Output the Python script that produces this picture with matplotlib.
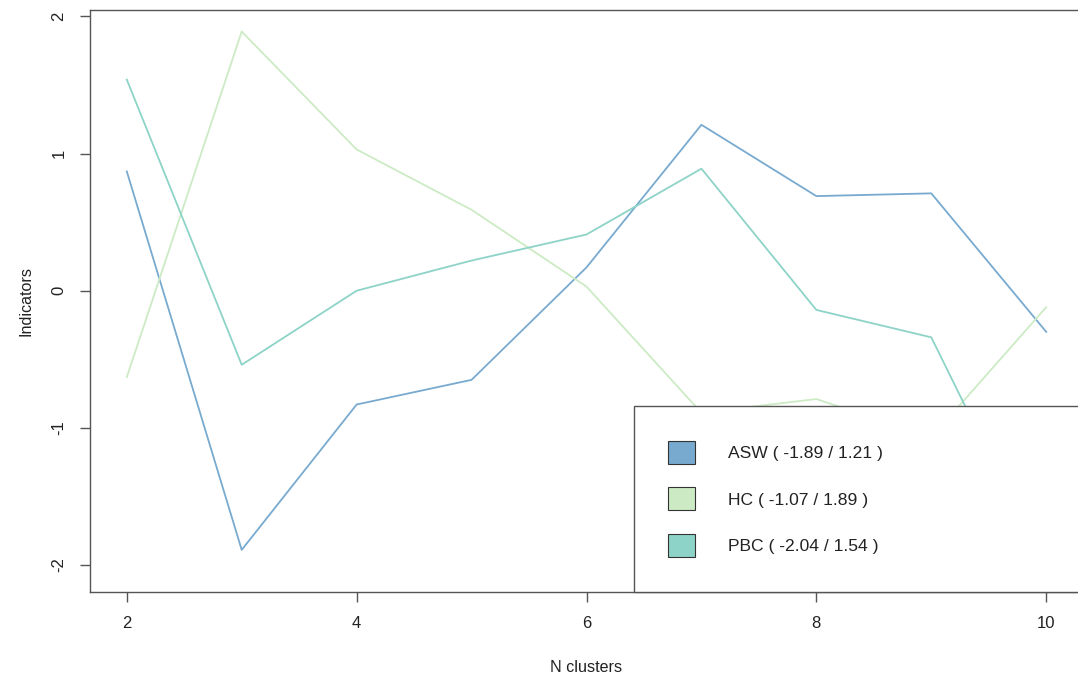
import numpy as np
import matplotlib.pyplot as plt
from matplotlib.patches import Patch, Rectangle

plt.rcParams['font.family'] = ['Liberation Sans', 'DejaVu Sans']

# N clusters 2..10
n_clusters = [2, 3, 4, 5, 6, 7, 8, 9, 10]
asw = [0.87, -1.89, -0.83, -0.65, 0.17, 1.21, 0.69, 0.71, -0.30]
hc = [-0.63, 1.89, 1.03, 0.59, 0.03, -0.89, -0.79, -1.07, -0.12]
pbc = [1.54, -0.54, 0.00, 0.22, 0.41, 0.89, -0.14, -0.34, -2.04]

names = ["ASW", "HC", "PBC"]
series = [asw, hc, pbc]
colors = ["#78AAD0", "#CCEBC5", "#8DD3C7"]
x_ticks = [2, 4, 6, 8, 10]
y_ticks = [-2, -1, 0, 1, 2]

W, H = 1078, 680
fig = plt.figure(figsize=(W / 100, H / 100), dpi=100)
ax = fig.add_axes([90 / W, 1 - 592 / H, 993 / W, 582 / H])

for vals, c in zip(series, colors):
    ax.plot(n_clusters, vals, color=c, lw=1.3, zorder=2)

# R-style 4% axis padding
allv = np.concatenate(series)
lo, hi = allv.min(), allv.max()
ax.set_ylim(lo - 0.04 * (hi - lo), hi + 0.04 * (hi - lo))
x0, x1 = min(n_clusters), max(n_clusters)
ax.set_xlim(x0 - 0.04 * (x1 - x0), x1 + 0.04 * (x1 - x0))

ax.set_xticks(x_ticks)
ax.set_yticks(y_ticks)
ax.set_yticklabels([str(t) for t in y_ticks], rotation=90, va='center')
ax.tick_params(direction='out', length=7, width=1, color='#555555',
               labelsize=12, labelcolor='#222222')
ax.tick_params(axis='x', pad=10.5)
ax.tick_params(axis='y', pad=10)
for s in ax.spines.values():
    s.set_color('#555555')
    s.set_linewidth(1)

ax.set_xlabel("N clusters", fontsize=11.6, labelpad=21, color='#222222')
ax.set_ylabel("Indicators", fontsize=11.6, labelpad=13, color='#222222')

# legend box (bottom right, like R legend)
ax.add_patch(Rectangle(((634 - 90) / 993, 0), 0.6, (592 - 406) / 582,
                       transform=ax.transAxes, facecolor='white',
                       edgecolor='#555555', lw=1, zorder=5, clip_on=False))

labels = ["%s ( %.2f / %.2f )" % (n, min(v), max(v)) for n, v in zip(names, series)]
handles = [Patch(facecolor=c, edgecolor='#333333', lw=0.8) for c in colors]
leg = ax.legend(handles, labels, loc='upper left',
                bbox_to_anchor=((668 - 90) / 993, (592 - 441) / 582),
                frameon=False, fontsize=12.6, borderpad=0, borderaxespad=0,
                handlelength=1.54, handleheight=1.64, handletextpad=1.9,
                labelspacing=1.34)
for t in leg.get_texts():
    t.set_color('#222222')
leg.set_zorder(6)

fig.savefig("out.png", dpi=100)
